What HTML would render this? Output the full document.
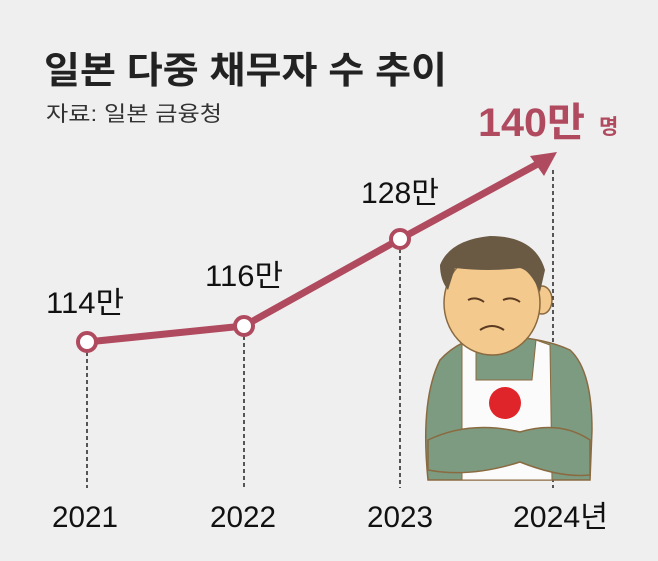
<!DOCTYPE html>
<html><head><meta charset="utf-8"><style>
body{margin:0;background:#f0efef;}
svg{display:block;font-family:"Liberation Sans","Noto Sans CJK KR",sans-serif;}
</style></head><body>
<svg width="658" height="561" viewBox="0 0 658 561">
<rect width="658" height="561" fill="#f0efef"/>
<text x="44" y="83" font-size="37" font-weight="bold" fill="#222" textLength="403" lengthAdjust="spacingAndGlyphs">일본 다중 채무자 수 추이</text>
<text x="46" y="121" font-size="21" fill="#333" textLength="176" lengthAdjust="spacingAndGlyphs">자료: 일본 금융청</text>
<g stroke="#222" stroke-width="1.5" stroke-dasharray="4,3">
<line x1="87" y1="352" x2="87" y2="488"/>
<line x1="244" y1="336" x2="244" y2="488"/>
<line x1="400" y1="249" x2="400" y2="488"/>
<line x1="553" y1="170" x2="553" y2="488"/>
</g>
<g>
<path d="M428 480 Q420 400 440 360 Q460 338 490 336 Q540 336 570 350 Q592 370 592 430 L590 480 Z" fill="#7d9b80" stroke="#8a6a40" stroke-width="1.5"/>
<path d="M462 345 L476 340 L476 380 L532 380 L536 340 L550 345 L552 480 L462 480 Z" fill="#fbfbfb" stroke="#8a6a40" stroke-width="1"/>
<circle cx="505" cy="403" r="16" fill="#e0252a"/>
<path d="M428 440 Q470 420 520 432 Q560 420 590 440 L590 475 Q560 478 520 462 Q470 478 428 470 Z" fill="#7d9b80" stroke="#8a6a40" stroke-width="1.5"/>
<ellipse cx="542" cy="300" rx="10" ry="14" fill="#f3c98e" stroke="#8a6a40" stroke-width="1.5"/>
<ellipse cx="492" cy="303" rx="48" ry="52" fill="#f3c98e" stroke="#8a6a40" stroke-width="1.5"/>
<path d="M440 265 Q450 240 490 236 Q535 236 545 270 L540 292 Q530 270 520 268 Q490 272 455 268 L448 290 Q440 280 440 265 Z" fill="#6a5a44"/>
<path d="M468 300 Q476 296 484 302 M503 300 Q512 296 520 302" stroke="#5a3a20" stroke-width="2" fill="none"/>
<path d="M480 330 Q492 322 504 330" stroke="#5a3a20" stroke-width="2" fill="none"/>
</g>
<polyline points="87,342 244,326 400,239 545,160" fill="none" stroke="#b04a5f" stroke-width="7"/>
<polygon points="557,152 530,156 544,176" fill="#b04a5f"/>
<g fill="#fff" stroke="#b04a5f" stroke-width="4">
<circle cx="87" cy="342" r="9"/><circle cx="244" cy="326" r="9"/><circle cx="400" cy="239" r="9"/>
</g>
<g font-size="30" fill="#111" lengthAdjust="spacingAndGlyphs">
<text x="46" y="313" textLength="78" lengthAdjust="spacingAndGlyphs">114만</text>
<text x="205" y="286" textLength="78" lengthAdjust="spacingAndGlyphs">116만</text>
<text x="361" y="203" textLength="78" lengthAdjust="spacingAndGlyphs">128만</text>
<text x="52" y="527" textLength="66" lengthAdjust="spacingAndGlyphs">2021</text>
<text x="210" y="527" textLength="66" lengthAdjust="spacingAndGlyphs">2022</text>
<text x="367" y="527" textLength="66" lengthAdjust="spacingAndGlyphs">2023</text>
<text x="513" y="527" textLength="95" lengthAdjust="spacingAndGlyphs">2024년</text>
</g>
<text x="478" y="136" font-size="40" font-weight="bold" fill="#b04a5f" textLength="107" lengthAdjust="spacingAndGlyphs">140만</text>
<text x="599" y="134" font-size="21" font-weight="bold" fill="#b04a5f">명</text>
</svg>
</body></html>
